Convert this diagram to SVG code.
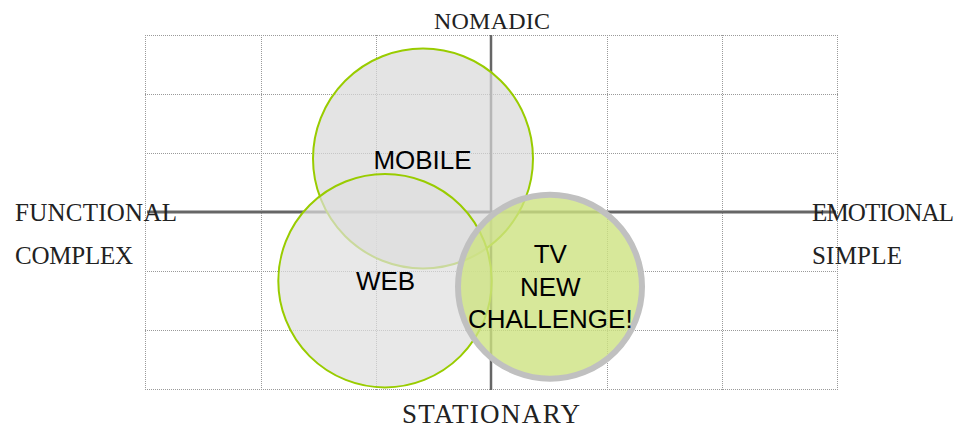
<svg xmlns="http://www.w3.org/2000/svg" width="965" height="429" viewBox="0 0 965 429">
<style>
.grid{stroke:#9a9a9a;stroke-width:1;stroke-dasharray:1,1;fill:none}
.axis{stroke:#666;stroke-width:3;fill:none}
.lbl{font-family:"Liberation Serif","Times New Roman",serif;fill:#222}
.nlbl{font-family:"Liberation Sans",Arial,sans-serif;font-size:26px;fill:#000;text-anchor:middle}
.gc{fill:#d9d9d9;fill-opacity:0.7;stroke:#99cc00;stroke-width:2}
</style>
<rect width="965" height="429" fill="#fff"/>
<g id="grid">
<path class="grid" d="M145,35.5H838M145,94.5H838M145,153.5H838M145,212.5H838M145,271.5H838M145,330.5H838M145,389.5H838M145.5,35V390M261.5,35V390M376.5,35V390M491.5,35V390M607.5,35V390M722.5,35V390M837.5,35V390"/>
</g>
<g id="connectors">
<line class="axis" x1="147" y1="212" x2="836" y2="212"/>
<line class="axis" x1="491" y1="35" x2="491" y2="390" style="stroke-width:2.5"/>
</g>
<g id="labels">
<text class="lbl" x="492" y="29" font-size="24" text-anchor="middle" textLength="116">NOMADIC</text>
<text class="lbl" x="491" y="423" font-size="27" text-anchor="middle" textLength="178">STATIONARY</text>
<text class="lbl" x="15" y="221" font-size="25" textLength="162">FUNCTIONAL</text>
<text class="lbl" x="15" y="264" font-size="25" textLength="118">COMPLEX</text>
<text class="lbl" x="812" y="221" font-size="25" textLength="142">EMOTIONAL</text>
<text class="lbl" x="812" y="264" font-size="25" textLength="90">SIMPLE</text>
</g>
<g id="mobile">
<circle class="gc" cx="423" cy="158.5" r="110"/>
<text class="nlbl" x="422.5" y="169">MOBILE</text>
</g>
<g id="web">
<circle class="gc" cx="385" cy="280.7" r="106.7" style="fill:#dedede"/>
<text class="nlbl" x="385.5" y="290">WEB</text>
</g>
<g id="tv">
<circle cx="550" cy="286.7" r="92" fill="#cde281" fill-opacity="0.8" stroke="#c0c0c0" stroke-width="6"/>
<text class="nlbl" x="550.3" y="263">TV</text>
<text class="nlbl" x="550.3" y="296">NEW</text>
<text class="nlbl" x="550.3" y="328">CHALLENGE!</text>
</g>
</svg>
